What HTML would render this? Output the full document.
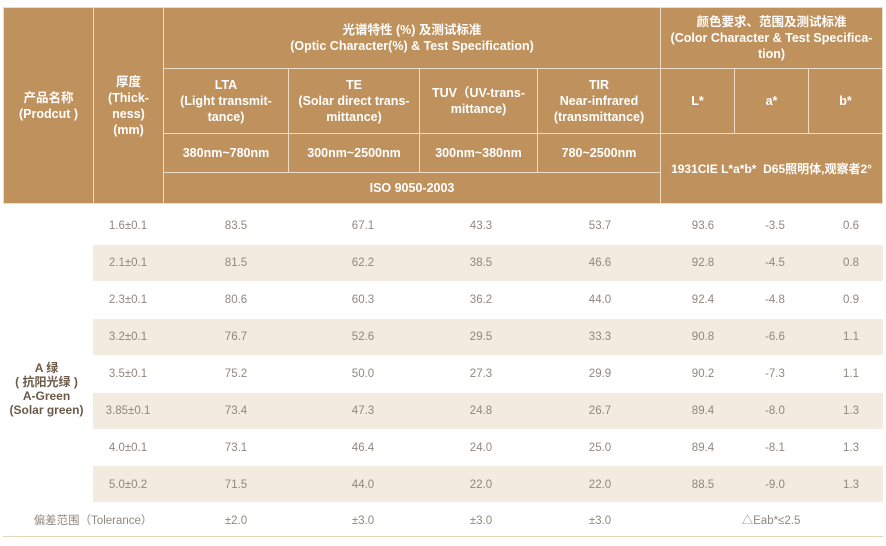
<!DOCTYPE html>
<html><head><meta charset="utf-8"><style>
*{margin:0;padding:0;box-sizing:border-box}
body{width:886px;height:546px;background:#fff;position:relative;overflow:hidden;font-family:"Liberation Sans","Noto Sans CJK SC",sans-serif}
.h{position:absolute;background:#bf915c;border:1px solid #ecdcc6;color:#fff;font-weight:bold;font-size:12.5px;line-height:16px;display:flex;align-items:center;justify-content:center;text-align:center}
.s{position:absolute;left:93px;width:790px;height:36px;background:#f3ebe0}
.r{position:absolute;left:0;width:886px;height:37px;font-size:11.5px;color:#908880}
.r span{position:absolute;top:0;line-height:37px;transform:translateX(-50%);white-space:nowrap}
</style></head><body>
<div class="h" style="left:3px;top:7px;width:91px;height:197px">产品名称<br>(Prodcut )</div>
<div class="h" style="left:93px;top:7px;width:71px;height:197px">厚度<br>(Thick-<br>ness)<br>(mm)</div>
<div class="h" style="left:163px;top:7px;width:498px;height:62px">光谱特性 (%) 及测试标准<br>(Optic Character(%) &amp; Test Specification)</div>
<div class="h" style="left:660px;top:7px;width:223px;height:62px">颜色要求、范围及测试标准<br>(Color Character &amp; Test Specifica-<br>tion)</div>
<div class="h" style="left:163px;top:68px;width:126px;height:66px">LTA<br>(Light transmit-<br>tance)</div>
<div class="h" style="left:288px;top:68px;width:132px;height:66px">TE<br>(Solar direct trans-<br>mittance)</div>
<div class="h" style="left:419px;top:68px;width:119px;height:66px">TUV（UV-trans-<br>mittance)</div>
<div class="h" style="left:537px;top:68px;width:124px;height:66px">TIR<br>Near-infrared<br>(transmittance)</div>
<div class="h" style="left:660px;top:68px;width:75px;height:66px">L*</div>
<div class="h" style="left:734px;top:68px;width:75px;height:66px">a*</div>
<div class="h" style="left:808px;top:68px;width:75px;height:66px">b*</div>
<div class="h" style="left:163px;top:133px;width:126px;height:40px">380nm~780nm</div>
<div class="h" style="left:288px;top:133px;width:132px;height:40px">300nm~2500nm</div>
<div class="h" style="left:419px;top:133px;width:119px;height:40px">300nm~380nm</div>
<div class="h" style="left:537px;top:133px;width:124px;height:40px">780~2500nm</div>
<div class="h" style="left:163px;top:172px;width:498px;height:32px">ISO 9050-2003</div>
<div class="h" style="left:660px;top:133px;width:223px;height:71px;font-size:12px;white-space:nowrap">1931CIE L*a*b*&nbsp; D65照明体,观察者2°</div>
<div class="s" style="top:245px"></div>
<div class="s" style="top:319px"></div>
<div class="s" style="top:393px"></div>
<div class="s" style="top:466px"></div>
<div style="position:absolute;left:0;width:93px;top:361px;text-align:center;font-weight:bold;font-size:12px;line-height:14px;color:#6b5a48">A 绿<br>( 抗阳光绿 )<br>A-Green<br>(Solar green)</div>
<div id="rows"></div>
<div style="position:absolute;left:3px;top:536px;width:880px;height:1px;background:#e6d3b8"></div>
<script>
var d=[["1.6±0.1","83.5","67.1","43.3","53.7","93.6","-3.5","0.6"],["2.1±0.1","81.5","62.2","38.5","46.6","92.8","-4.5","0.8"],["2.3±0.1","80.6","60.3","36.2","44.0","92.4","-4.8","0.9"],["3.2±0.1","76.7","52.6","29.5","33.3","90.8","-6.6","1.1"],["3.5±0.1","75.2","50.0","27.3","29.9","90.2","-7.3","1.1"],["3.85±0.1","73.4","47.3","24.8","26.7","89.4","-8.0","1.3"],["4.0±0.1","73.1","46.4","24.0","25.0","89.4","-8.1","1.3"],["5.0±0.2","71.5","44.0","22.0","22.0","88.5","-9.0","1.3"]];
var xs=[128,236,363,481,600,703,775,851],h="";
d.forEach(function(r,i){h+='<div class="r" style="top:'+(208+i*37)+'px">';r.forEach(function(v,j){h+='<span style="left:'+xs[j]+'px">'+v+'</span>'});h+='</div>'});
h+='<div class="r" style="top:503px"><span style="left:93px">偏差范围（Tolerance）</span><span style="left:236px">±2.0</span><span style="left:363px">±3.0</span><span style="left:481px">±3.0</span><span style="left:600px">±3.0</span><span style="left:771px">△Eab*≤2.5</span></div>';
document.getElementById("rows").innerHTML=h;
</script>
</body></html>
